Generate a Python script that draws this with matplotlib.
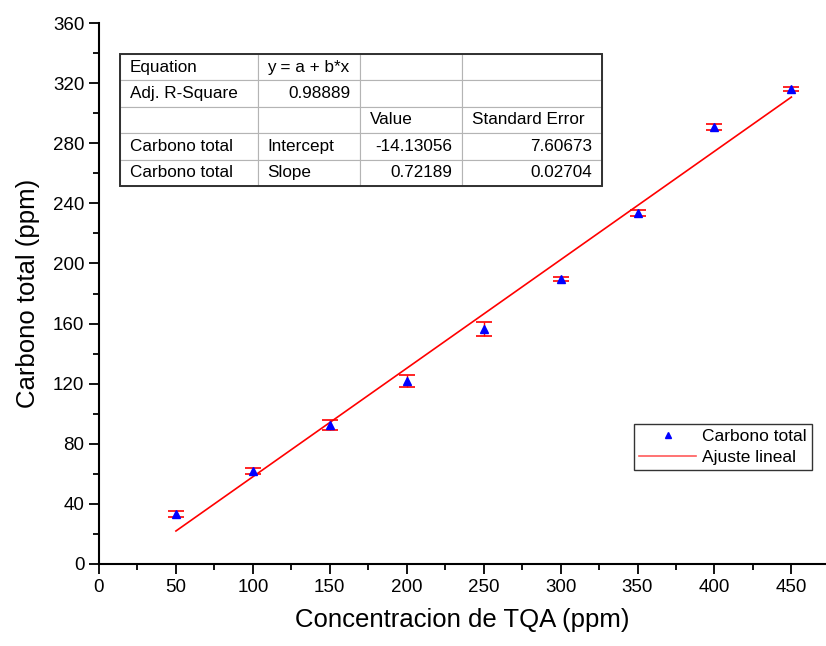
import matplotlib.pyplot as plt
from matplotlib.ticker import MultipleLocator
from matplotlib.patches import Rectangle

plt.rcParams['font.family'] = ['Liberation Sans', 'DejaVu Sans']

# data
conc = [50, 100, 150, 200, 250, 300, 350, 400, 450]
carbono = [33, 62, 92.5, 122, 156.5, 189.5, 233.5, 290.5, 316]
err = [2.0, 2.0, 3.0, 4.0, 4.5, 1.2, 2.0, 2.0, 1.5]

intercept = -14.13056
slope = 0.72189

table_rows = [
    ["Equation", "y = a + b*x", "", ""],
    ["Adj. R-Square", "0.98889", "", ""],
    ["", "", "Value", "Standard Error"],
    ["Carbono total", "Intercept", "-14.13056", "7.60673"],
    ["Carbono total", "Slope", "0.72189", "0.02704"],
]

W, H = 826, 646
fig = plt.figure(figsize=(W / 100, H / 100), dpi=100)
ax_l, ax_b, ax_w, ax_h = 99, 82, 727, 541
ax = fig.add_axes([ax_l / W, ax_b / H, ax_w / W, ax_h / H])

fit_y = [intercept + slope * x for x in conc]
ax.plot(conc, fit_y, color='red', lw=1.2, label='Ajuste lineal', zorder=2)
ax.errorbar(conc, carbono, yerr=err, fmt='none', ecolor='red', elinewidth=1,
            capsize=6, capthick=1.2, zorder=3)
ax.plot(conc, carbono, ls='none', marker='^', ms=6, color='blue',
        label='Carbono total', zorder=4)

ax.set_xlim(0, 472.5)
ax.set_ylim(0, 360)
ax.xaxis.set_major_locator(MultipleLocator(50))
ax.xaxis.set_minor_locator(MultipleLocator(25))
ax.yaxis.set_major_locator(MultipleLocator(40))
ax.yaxis.set_minor_locator(MultipleLocator(20))
ax.tick_params(which='major', length=7, width=1.3, labelsize=13.5, direction='out')
ax.tick_params(which='minor', length=4, width=1.3, direction='out')
for s in ['top', 'right']:
    ax.spines[s].set_visible(False)
for s in ['left', 'bottom']:
    ax.spines[s].set_linewidth(1.5)

ax.set_xlabel('Concentracion de TQA (ppm)', fontsize=18.5, labelpad=9)
ax.set_ylabel('Carbono total (ppm)', fontsize=18.5, labelpad=9)

h, l = ax.get_legend_handles_labels()
leg = ax.legend(h[::-1], l[::-1], loc='lower right', bbox_to_anchor=(0.981, 0.174),
                fontsize=12.5, frameon=True, fancybox=False, edgecolor='black',
                handlelength=3.3, borderpad=0.3, labelspacing=0.3, handletextpad=0.35,
                borderaxespad=0, markerscale=0.8)
leg.get_frame().set_linewidth(1.0)
leg.legend_handles[1].set_color('#ff5a5a')

# statistics table, pixel box 120..602 x 54..186 (from top)
px0, px1, py_top, py_bot = 120, 602, 54, 186
bx = (px0 - ax_l) / ax_w
by = (H - py_bot - ax_b) / ax_h
bw = (px1 - px0) / ax_w
bh = (py_bot - py_top) / ax_h
col_w = [138, 102, 102, 140]
tbl = ax.table(cellText=table_rows, colWidths=[w / sum(col_w) for w in col_w],
               bbox=[bx, by, bw, bh])
tbl.auto_set_font_size(False)
tbl.set_fontsize(12.3)
for (r, c), cell in tbl.get_celld().items():
    cell.set_edgecolor('#b4b4b4')
    cell.set_linewidth(0.8)
    cell.PAD = 9.5 / col_w[c]
    txt = cell.get_text()
    if c == 0 or r == 2 or (c == 1 and r != 1):
        cell._loc = 'left'
        txt.set_ha('left')
    else:
        cell._loc = 'right'
        txt.set_ha('right')
ax.add_patch(Rectangle((bx, by), bw, bh, transform=ax.transAxes, clip_on=False,
                       fill=False, edgecolor='#303030', lw=1.4, zorder=10))

fig.savefig('out.png', dpi=100)
